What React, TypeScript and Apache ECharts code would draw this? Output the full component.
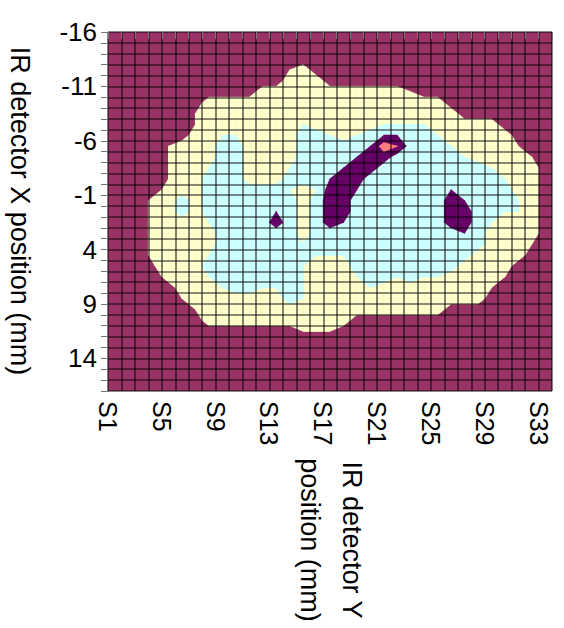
import React, { useEffect, useRef } from "react";
import * as echarts from "echarts";

// Columns (IR detector Y position) — Excel series names
const xCategories = [
  "S1", "S2", "S3", "S4", "S5", "S6", "S7", "S8", "S9", "S10", "S11",
  "S12", "S13", "S14", "S15", "S16", "S17", "S18", "S19", "S20", "S21", "S22",
  "S23", "S24", "S25", "S26", "S27", "S28", "S29", "S30", "S31", "S32", "S33",
];

// Rows (IR detector X position, mm)
const yPositions = [
  -16, -15, -14, -13, -12, -11, -10, -9, -8, -7, -6, -5, -4, -3, -2, -1, 0,
  1, 2, 3, 4, 5, 6, 7, 8, 9, 10, 11, 12, 13, 14, 15, 16,
];

// Signal level read at each grid node (row = X position, columns S1..S33 in
// three groups of 11). 1 = plum band, 3 = ivory, 5 = cyan, 7 = purple,
// 9 = coral; even digits sit right on a band boundary.
const levelRows = [
  "11111111111 11111111111 11111111111",
  "11111111111 11111111111 11111111111",
  "11111111111 11111111111 11111111111",
  "11111111111 11231111111 11111111111",
  "11111111111 11333111111 11111111111",
  "11111111111 33333333333 21111111111",
  "11111113333 33333333333 33311111111",
  "11111123333 33333333333 33331111111",
  "11111123333 33343333344 44333331111",
  "11111133443 33355434566 55433333111",
  "11112333553 33355555698 55543333211",
  "11112333553 33355556775 55554333321",
  "11112334553 33455567755 55555543331",
  "11112335553 33555677555 55555554331",
  "11113335555 55434776555 55565555331",
  "11133535555 55535775555 55576555431",
  "11133535555 56535775555 55577554431",
  "11133334555 57535765555 55577543331",
  "11133333555 55535555555 55556533331",
  "11133333555 55545555555 55555533321",
  "11133334555 55544445555 55555333311",
  "11123335555 55543335555 55553333111",
  "11113334555 55543334554 54433332111",
  "11111333455 44543333433 33333321111",
  "11111233333 33543333333 33333311111",
  "11111123333 33333333333 33311111111",
  "11111113333 33333331111 11111111111",
  "11111111111 11122211111 11111111111",
  "11111111111 11111111111 11111111111",
  "11111111111 11111111111 11111111111",
  "11111111111 11111111111 11111111111",
  "11111111111 11111111111 11111111111",
  "11111111111 11111111111 11111111111",
];

// Band boundaries and fills (Excel contour palette)
const bandThresholds = [2, 4, 6, 8];
const bandColors = ["#993366", "#FFFFCC", "#CCFFFF", "#660066", "#FF8080"];

const xTitle = "IR detector Y\nposition (mm)";
const yTitle = "IR detector X position (mm)";

const FONT = '"Liberation Sans", Arial, Helvetica, sans-serif';

export default function App() {
  const ref = useRef<HTMLDivElement>(null);

  useEffect(() => {
    if (!ref.current) return;
    const chart = echarts.init(ref.current, null, { renderer: "svg" });

    const nC = xCategories.length;
    const nR = yPositions.length;
    const vals = levelRows.map((r) => r.replace(/\s+/g, "").split("").map(Number));
    const clamp = (v: number, a: number, b: number) => Math.max(a, Math.min(b, v));
    // node positions in axis units (cell centres), padded to the plot edges
    const xs = [0, ...xCategories.map((_, i) => i + 0.5), nC];
    const ys = [0, ...yPositions.map((_, j) => j + 0.5), nR];
    const val = (pi: number, pj: number) =>
      vals[clamp(pj - 1, 0, nR - 1)][clamp(pi - 1, 0, nC - 1)];

    // marching squares: region where value >= t, per grid cell
    const levelPolys = bandThresholds.map((t) => {
      const polys: number[][][] = [];
      for (let j = 0; j < ys.length - 1; j++) {
        for (let i = 0; i < xs.length - 1; i++) {
          const c = [
            { x: xs[i], y: ys[j], v: val(i, j) },
            { x: xs[i + 1], y: ys[j], v: val(i + 1, j) },
            { x: xs[i + 1], y: ys[j + 1], v: val(i + 1, j + 1) },
            { x: xs[i], y: ys[j + 1], v: val(i, j + 1) },
          ];
          const pts: number[][] = [];
          for (let k = 0; k < 4; k++) {
            const a = c[k];
            const b = c[(k + 1) % 4];
            const ain = a.v >= t;
            const bin = b.v >= t;
            if (ain) pts.push([a.x, a.y]);
            if (ain !== bin) {
              const f = (t - a.v) / (b.v - a.v);
              pts.push([a.x + f * (b.x - a.x), a.y + f * (b.y - a.y)]);
            }
          }
          if (pts.length >= 3) polys.push(pts);
        }
      }
      return polys;
    });

    const splitStyle = { color: "rgba(0,0,0,0.62)", width: 1.6 };

    const option: any = {
      animation: false,
      grid: {
        left: 108,
        top: 32,
        width: 444,
        height: 359,
        show: true,
        backgroundColor: bandColors[0],
        borderWidth: 0,
      },
      xAxis: {
        type: "value",
        min: 0,
        max: nC,
        interval: 1,
        z: 5,
        axisLine: { show: false },
        axisTick: { show: true, length: 7, lineStyle: { color: "#777", width: 1 } },
        splitLine: { show: true, lineStyle: splitStyle },
        axisLabel: {
          rotate: -90,
          margin: 10,
          fontSize: 25,
          fontFamily: FONT,
          color: "#000",
          formatter: (v: number) => (v % 4 === 0 && xCategories[v] ? xCategories[v] : ""),
        },
      },
      yAxis: {
        type: "value",
        min: 0,
        max: nR,
        interval: 1,
        inverse: true,
        z: 5,
        axisLine: { show: false },
        axisTick: { show: true, length: 7, lineStyle: { color: "#777", width: 1 } },
        splitLine: { show: true, lineStyle: splitStyle },
        axisLabel: {
          margin: 11,
          fontSize: 26,
          fontFamily: FONT,
          color: "#000",
          formatter: (v: number) =>
            v % 5 === 0 && yPositions[v] !== undefined ? String(yPositions[v]) : "",
        },
      },
      series: [
        {
          type: "custom",
          coordinateSystem: "cartesian2d",
          silent: true,
          clip: true,
          z: 2,
          data: bandThresholds.map((t, k) => [k, t]),
          renderItem: (params: any, api: any) => {
            const k = params.dataIndex;
            const col = bandColors[k + 1];
            return {
              type: "group",
              children: levelPolys[k].map((poly) => ({
                type: "polygon",
                shape: { points: poly.map((p) => api.coord(p)) },
                style: { fill: col, stroke: col, lineWidth: 0.7 },
              })),
            };
          },
        },
      ],
      graphic: [
        {
          type: "text",
          x: 20,
          y: 211,
          rotation: -Math.PI / 2,
          style: {
            text: yTitle,
            fontSize: 27,
            fontFamily: FONT,
            fill: "#000",
            align: "center",
            textAlign: "center",
            verticalAlign: "middle",
            textVerticalAlign: "middle",
          },
        },
        {
          type: "text",
          x: 331,
          y: 540,
          rotation: -Math.PI / 2,
          style: {
            text: xTitle,
            fontSize: 27,
            lineHeight: 42,
            fontFamily: FONT,
            fill: "#000",
            align: "center",
            textAlign: "center",
            verticalAlign: "middle",
            textVerticalAlign: "middle",
          },
        },
      ],
    };

    chart.setOption(option);
    return () => chart.dispose();
  }, []);

  return (
    <div
      ref={ref}
      style={{ position: "absolute", left: 0, top: 0, width: 564, height: 628 }}
    />
  );
}
